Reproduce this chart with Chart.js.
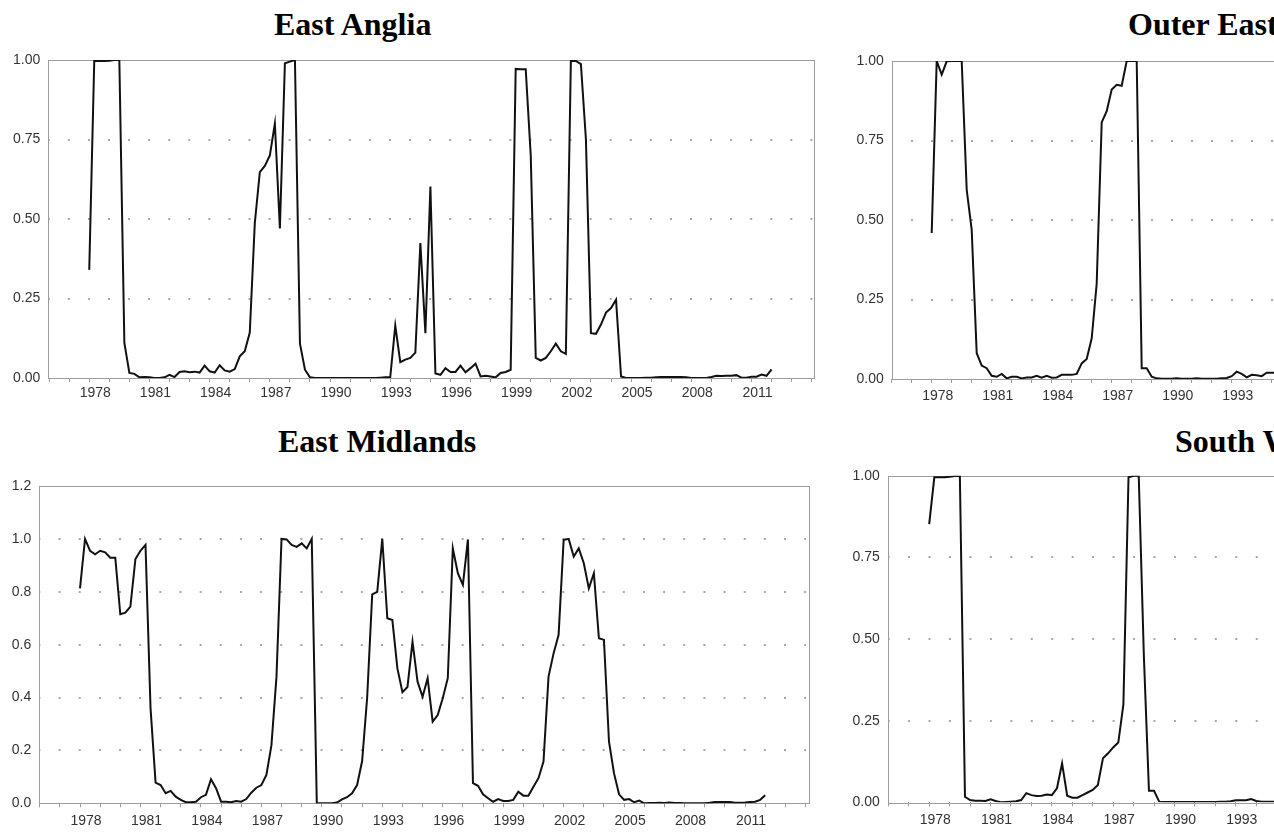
<!DOCTYPE html>
<html>
<head>
<meta charset="utf-8">
<script src="https://cdn.jsdelivr.net/npm/chart.js@4.4.1/dist/chart.umd.min.js"></script>
<style>
  html, body { margin: 0; padding: 0; background: #fff; }
  body { width: 1274px; height: 834px; overflow: hidden; position: relative; }
  .title {
    position: absolute;
    font-family: "Liberation Serif", "Times New Roman", serif;
    font-weight: bold;
    font-size: 32px;
    line-height: 32px;
    color: #000;
    white-space: nowrap;
  }
  canvas { position: absolute; }
</style>
</head>
<body>
<div class="title" style="left:274px; top:8px;">East Anglia</div>
<div class="title" style="left:1128px; top:8px;">Outer East</div>
<div class="title" style="left:278px; top:425px;">East Midlands</div>
<div class="title" style="left:1175px; top:425px;">South West</div>

<canvas id="eastAnglia" width="830" height="370" style="left:0px; top:40px;"></canvas>
<canvas id="outerEast" width="830" height="370" style="left:844px; top:41px;"></canvas>
<canvas id="eastMidlands" width="830" height="368" style="left:0px; top:466px;"></canvas>
<canvas id="southWest" width="830" height="378" style="left:840px; top:456px;"></canvas>

<script>
// quarterly series, first value is 1978 Q1
const firstYear = 1978;

const yearTicks = [1976, 1977, 1978, 1979, 1980, 1981, 1982, 1983, 1984, 1985,
  1986, 1987, 1988, 1989, 1990, 1991, 1992, 1993, 1994, 1995, 1996, 1997, 1998,
  1999, 2000, 2001, 2002, 2003, 2004, 2005, 2006, 2007, 2008, 2009, 2010, 2011,
  2012, 2013, 2014];
const yearLabels = [1978, 1981, 1984, 1987, 1990, 1993, 1996, 1999, 2002, 2005, 2008, 2011];

const probTicks = [0, 0.25, 0.5, 0.75, 1];
const midlandsTicks = [0, 0.2, 0.4, 0.6, 0.8, 1.0, 1.2];

const eastAnglia = [
  0.34, 0.997, 0.997, 0.997,
  0.998, 1.0, 1.0, 0.11,
  0.016, 0.013, 0.002, 0.003,
  0.002, 0.0, 0.0, 0.002,
  0.01, 0.003, 0.019, 0.021,
  0.018, 0.02, 0.017, 0.039,
  0.021, 0.017, 0.04, 0.024,
  0.02, 0.028, 0.068, 0.084,
  0.143, 0.487, 0.647, 0.667,
  0.70, 0.80, 0.47, 0.99,
  0.995, 1.0, 0.108, 0.026,
  0.002, 0.0, 0.0, 0.0,
  0.0, 0.0, 0.0, 0.0,
  0.0, 0.0, 0.0, 0.0,
  0.0, 0.0, 0.001, 0.002,
  0.003, 0.165, 0.05, 0.058,
  0.063, 0.08, 0.424, 0.141,
  0.602, 0.014, 0.01, 0.031,
  0.019, 0.019, 0.039, 0.018,
  0.031, 0.045, 0.005, 0.007,
  0.005, 0.002, 0.016, 0.019,
  0.026, 0.972, 0.971, 0.971,
  0.70, 0.063, 0.055, 0.063,
  0.084, 0.108, 0.084, 0.076,
  0.998, 0.997, 0.987, 0.75,
  0.141, 0.139, 0.168, 0.206,
  0.22, 0.246, 0.005, 0.0,
  0.0, 0.0, 0.0, 0.001,
  0.001, 0.002, 0.003, 0.003,
  0.003, 0.003, 0.003, 0.002,
  0.0, 0.0, 0.0, 0.0,
  0.003, 0.007, 0.006, 0.007,
  0.007, 0.009, 0.001, 0.001,
  0.004, 0.004, 0.011, 0.007,
  0.027
];

const outerEast = [
  0.459, 1.0, 0.957, 0.999,
  1.0, 1.0, 1.0, 0.595,
  0.469, 0.081, 0.042, 0.034,
  0.01, 0.007, 0.016, 0.002,
  0.007, 0.007, 0.002, 0.005,
  0.005, 0.01, 0.004, 0.01,
  0.004, 0.005, 0.013, 0.013,
  0.013, 0.016, 0.049, 0.063,
  0.128, 0.30, 0.807, 0.842,
  0.91, 0.925, 0.922, 1.0,
  1.0, 1.0, 0.034, 0.034,
  0.007, 0.002, 0.001, 0.001,
  0.001, 0.002, 0.001, 0.001,
  0.001, 0.002, 0.001, 0.001,
  0.001, 0.001, 0.002, 0.003,
  0.009, 0.023, 0.016, 0.005,
  0.013, 0.012, 0.009, 0.02,
  0.02, 0.02, 0.02
];

const eastMidlands = [
  0.813, 1.0, 0.955, 0.942,
  0.955, 0.949, 0.929, 0.929,
  0.715, 0.721, 0.744, 0.924,
  0.955, 0.977, 0.36, 0.078,
  0.069, 0.038, 0.047, 0.025,
  0.013, 0.004, 0.004, 0.006,
  0.023, 0.032, 0.091, 0.057,
  0.006, 0.006, 0.004, 0.009,
  0.006, 0.016, 0.04, 0.059,
  0.069, 0.107, 0.22, 0.479,
  1.0, 0.998, 0.977, 0.97,
  0.983, 0.964, 1.0, 0.0,
  0.0, 0.0, 0.0, 0.003,
  0.015, 0.023, 0.038, 0.069,
  0.16, 0.40, 0.79, 0.80,
  1.0, 0.70, 0.693, 0.51,
  0.42, 0.44, 0.611, 0.46,
  0.403, 0.473, 0.309, 0.334,
  0.397, 0.473, 0.964, 0.87,
  0.826, 0.998, 0.076, 0.066,
  0.034, 0.019, 0.006, 0.016,
  0.009, 0.009, 0.013, 0.044,
  0.029, 0.029, 0.063, 0.095,
  0.158, 0.479, 0.567, 0.637,
  0.996, 1.0, 0.933, 0.964,
  0.908, 0.813, 0.87, 0.624,
  0.618, 0.233, 0.113, 0.034,
  0.013, 0.016, 0.004, 0.01,
  0.0, 0.001, 0.001, 0.002,
  0.001, 0.003, 0.001, 0.001,
  0.0, 0.0, 0.0, 0.0,
  0.0, 0.002, 0.005, 0.005,
  0.005, 0.005, 0.002, 0.002,
  0.003, 0.005, 0.006, 0.013,
  0.03
];

const southWest = [
  0.852, 0.995, 0.995, 0.995,
  0.997, 0.999, 1.0, 0.017,
  0.007, 0.005, 0.005, 0.004,
  0.009, 0.004, 0.0, 0.001,
  0.002, 0.003, 0.007, 0.028,
  0.022, 0.019, 0.02, 0.024,
  0.022, 0.043, 0.119, 0.02,
  0.014, 0.014, 0.022, 0.03,
  0.038, 0.053, 0.135, 0.15,
  0.168, 0.183, 0.30, 0.995,
  1.0, 1.0, 0.45, 0.035,
  0.035, 0.002, 0.001, 0.001,
  0.001, 0.001, 0.001, 0.001,
  0.001, 0.001, 0.001, 0.001,
  0.001, 0.002, 0.002, 0.003,
  0.006, 0.006, 0.006, 0.01,
  0.004, 0.002, 0.002, 0.002,
  0.002, 0.002
];

// plot box inside each canvas: [left, top, width, height], x range in years
// (top has to clear the y label padding Chart.js reserves, about 16.4px)
const panels = [
  { id: 'eastAnglia', values: eastAnglia, yTicks: probTicks, digits: 2,
    box: [48.3, 20, 766, 318], xRange: [1975.96, 2014.13], labelPad: 3 },
  { id: 'outerEast', values: outerEast, yTicks: probTicks, digits: 2,
    box: [47.7, 20, 766, 318], xRange: [1976.0, 2014.3], labelPad: 5 },
  { id: 'eastMidlands', values: eastMidlands, yTicks: midlandsTicks, digits: 1,
    box: [39.3, 20, 770, 317.3], xRange: [1975.98, 2014.19], labelPad: 5 },
  { id: 'southWest', values: southWest, yTicks: probTicks, digits: 2,
    box: [47.7, 19.7, 770, 326.6], xRange: [1975.97, 2013.62], labelPad: 5 }
];

const tickFont = { family: '"Liberation Sans", Arial, sans-serif', size: 14 };
const labelColor = '#333';

const frame = {
  id: 'frame',
  beforeDatasetsDraw(chart) {
    const { ctx, chartArea: a } = chart;
    ctx.save();
    ctx.strokeStyle = '#9c9c9c';
    ctx.lineWidth = 1;
    ctx.strokeRect(Math.round(a.left) + 0.5, Math.round(a.top) + 0.5,
      Math.round(a.right - a.left), Math.round(a.bottom - a.top));
    ctx.restore();
  }
};

panels.forEach(p => {
  const canvas = document.getElementById(p.id);
  const [bl, bt, bw, bh] = p.box;
  const [xMin, xMax] = p.xRange;
  const yMax = p.yTicks[p.yTicks.length - 1];
  const pxPerYear = bw / (xMax - xMin);
  // dotted gridlines: one dot at every year position
  const firstDot = (Math.ceil(xMin) - xMin) * pxPerYear;
  const dashOffset = (((1 - firstDot) % pxPerYear) + pxPerYear) % pxPerYear;

  new Chart(canvas, {
    type: 'line',
    data: {
      datasets: [{
        data: p.values.map((v, i) => ({ x: firstYear + i / 4, y: v })),
        borderColor: '#111',
        borderWidth: 2,
        pointRadius: 0,
        tension: 0,
        fill: false
      }]
    },
    options: {
      responsive: false,
      animation: false,
      devicePixelRatio: 1,
      events: [],
      layout: { padding: { left: 0, top: bt, right: canvas.width - bl - bw, bottom: 0 } },
      plugins: { legend: { display: false }, tooltip: { enabled: false } },
      scales: {
        x: {
          type: 'linear',
          min: xMin,
          max: xMax,
          afterBuildTicks: s => { s.ticks = yearTicks.map(v => ({ value: v })); },
          afterFit: s => { s.height = canvas.height - bt - bh; },
          grid: { drawOnChartArea: false, drawTicks: true, tickLength: 4, tickColor: '#9c9c9c', tickWidth: 1 },
          border: { display: false },
          ticks: {
            autoSkip: false,
            maxRotation: 0,
            minRotation: 0,
            padding: p.labelPad,
            labelOffset: 6,
            color: labelColor,
            font: tickFont,
            callback: v => yearLabels.includes(v) ? String(v) : ''
          }
        },
        y: {
          min: 0,
          max: yMax,
          afterBuildTicks: s => { s.ticks = p.yTicks.map(v => ({ value: v })); },
          afterFit: s => { s.width = bl; },
          grid: {
            drawTicks: false,
            lineWidth: 2,
            color: c => (c.tick && (c.tick.value === 0 || c.tick.value === yMax)) ? 'rgba(0,0,0,0)' : '#a8a8a8'
          },
          border: { display: false, dash: [2, pxPerYear - 2], dashOffset: dashOffset },
          ticks: {
            padding: 8,
            color: labelColor,
            font: tickFont,
            callback: v => v.toFixed(p.digits)
          }
        }
      }
    },
    plugins: [frame]
  });
});
</script>
</body>
</html>
